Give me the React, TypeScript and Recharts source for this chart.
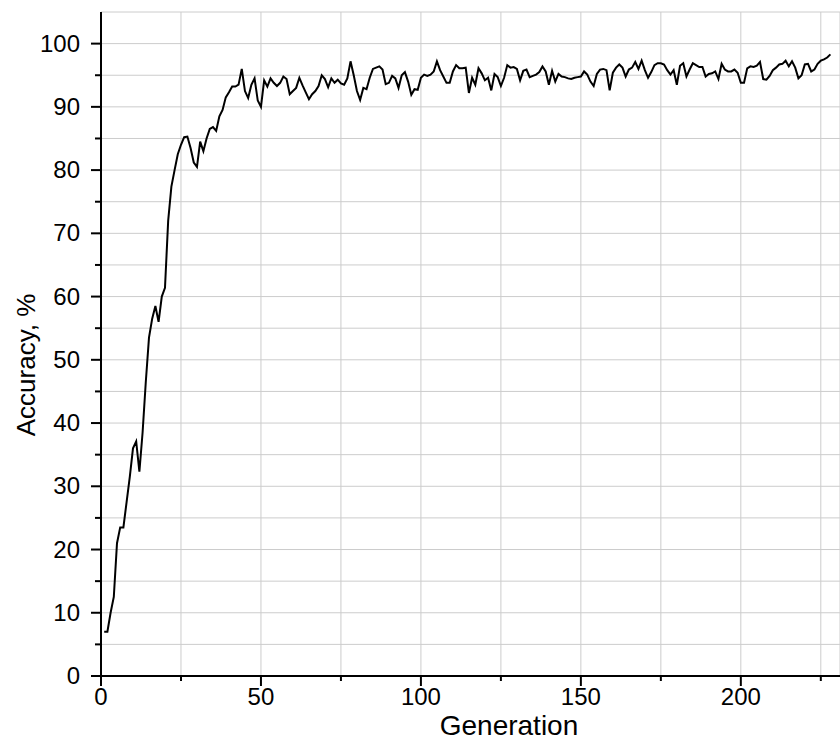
import { LineChart, Line, XAxis, YAxis, CartesianGrid, Label } from "recharts";

// accuracy (%) per generation, starting at generation 1
const accuracy = [
  7, 7, 10, 12.5, 21, 23.5, 23.5, 27.5, 31.5, 36,
  37.1, 32.3, 38.5, 46.5, 53.5, 56.5, 58.5, 56, 60, 61.4,
  72, 77.4, 80, 82.5, 84, 85.2, 85.3, 83.5, 81.2, 80.5,
  84.5, 83, 85, 86.5, 86.8, 86.2, 88.5, 89.5, 91.5, 92.3,
  93.2, 93.2, 93.5, 96, 92.5, 91.4, 93.5, 94.5, 91, 90,
  94.2, 93.2, 94.5, 93.8, 93.3, 93.8, 94.8, 94.4, 92, 92.5,
  93, 94.6, 93.4, 92.3, 91.2, 92, 92.5, 93.3, 95, 94.4,
  93.1, 94.5, 93.8, 94.3, 93.7, 93.5, 94.5, 97.2, 95, 92.5,
  91.1, 93, 92.8, 94.6, 96, 96.2, 96.4, 95.9, 93.6, 93.8,
  94.9, 94.5, 93, 95, 95.5, 94, 91.9, 92.8, 92.7, 94.6,
  95.1, 94.9, 95.1, 95.6, 97.2, 95.8, 94.8, 93.8, 93.8, 95.6,
  96.6, 96.1, 96.1, 96.2, 92.2, 94.6, 93.5, 96.1, 95.3, 94.2,
  94.6, 92.6, 95.2, 94.7, 93.3, 94.6, 96.6, 96.2, 96.3, 96,
  94.2, 95.7, 95.9, 94.7, 94.9, 95.1, 95.5, 96.4, 95.6, 93.5,
  95.7, 94, 95.2, 94.8, 94.7, 94.5, 94.4, 94.6, 94.7, 94.8,
  95.6, 95.1, 94, 93.3, 95.2, 95.9, 96, 95.8, 92.6, 95.4,
  96.2, 96.7, 96.2, 94.8, 95.9, 96.2, 97.1, 96, 97.3, 95.8,
  94.6, 95.5, 96.6, 96.9, 96.9, 96.7, 95.8, 95.1, 95.8, 93.5,
  96.5, 96.9, 94.8, 95.9, 96.9, 96.6, 96.3, 96.3, 94.8, 95.2,
  95.3, 95.6, 94.4, 96.8, 95.9, 95.6, 95.6, 95.9, 95.4, 93.8,
  93.8, 96.1, 96.4, 96.3, 96.5, 97.1, 94.4, 94.3, 94.9, 95.8,
  96.2, 96.7, 96.8, 97.3, 96.4, 97.2, 96.2, 94.5, 95, 96.7,
  96.8, 95.6, 95.9, 96.8, 97.3, 97.5, 97.8, 98.3,
];

const xTicks = [0, 25, 50, 75, 100, 125, 150, 175, 200, 225];
const yTicks = [0, 5, 10, 15, 20, 25, 30, 35, 40, 45, 50, 55, 60, 65, 70, 75, 80, 85, 90, 95, 100];

const data = accuracy.map((v, i) => ({ gen: i + 1, acc: v }));

const FONT = "'Liberation Sans', Arial, sans-serif";

const YTick = (props: any) => {
  const { x, y, payload } = props;
  const major = payload.value % 10 === 0;
  return (
    <g>
      <line x1={x - (major ? 10 : 6)} x2={x} y1={y} y2={y} stroke="#000" strokeWidth={2} />
      {major && (
        <text x={x - 21} y={y + 8} textAnchor="end" fontSize={24} fontFamily={FONT} fill="#000">
          {payload.value}
        </text>
      )}
    </g>
  );
};

const XTick = (props: any) => {
  const { x, y, payload } = props;
  const major = payload.value % 50 === 0;
  return (
    <g>
      <line x1={x} x2={x} y1={y} y2={y + (major ? 10 : 5)} stroke="#000" strokeWidth={2} />
      {major && (
        <text x={x} y={y + 29} textAnchor="middle" fontSize={24} fontFamily={FONT} fill="#000">
          {payload.value}
        </text>
      )}
    </g>
  );
};

export default function App() {
  return (
    <div style={{ position: "absolute", left: 0, top: 0, background: "#fff" }}>
      <LineChart width={840} height={756} data={data} margin={{ top: 12, right: 0, bottom: 0, left: 0 }}>
        <CartesianGrid stroke="#cccccc" strokeWidth={1} />
        <XAxis
          dataKey="gen"
          type="number"
          domain={[0, 231]}
          ticks={xTicks}
          interval={0}
          height={80}
          tickSize={0}
          tickMargin={0}
          tickLine={false}
          tick={<XTick />}
          axisLine={{ stroke: "#000", strokeWidth: 2 }}
        >
          <Label
            content={() => (
              <text x={509} y={735} textAnchor="middle" fontSize={28} fontFamily={FONT} fill="#000">
                Generation
              </text>
            )}
          />
        </XAxis>
        <YAxis
          type="number"
          domain={[0, 105]}
          ticks={yTicks}
          interval={0}
          width={101}
          tickSize={0}
          tickMargin={0}
          tickLine={false}
          tick={<YTick />}
          axisLine={{ stroke: "#000", strokeWidth: 2 }}
        >
          <Label
            content={() => (
              <text
                x={35}
                y={365}
                textAnchor="middle"
                fontSize={26}
                fontFamily={FONT}
                fill="#000"
                transform="rotate(-90 35 365)"
              >
                Accuracy, %
              </text>
            )}
          />
        </YAxis>
        <Line
          type="linear"
          dataKey="acc"
          stroke="#000"
          strokeWidth={2}
          dot={false}
          isAnimationActive={false}
        />
      </LineChart>
    </div>
  );
}
